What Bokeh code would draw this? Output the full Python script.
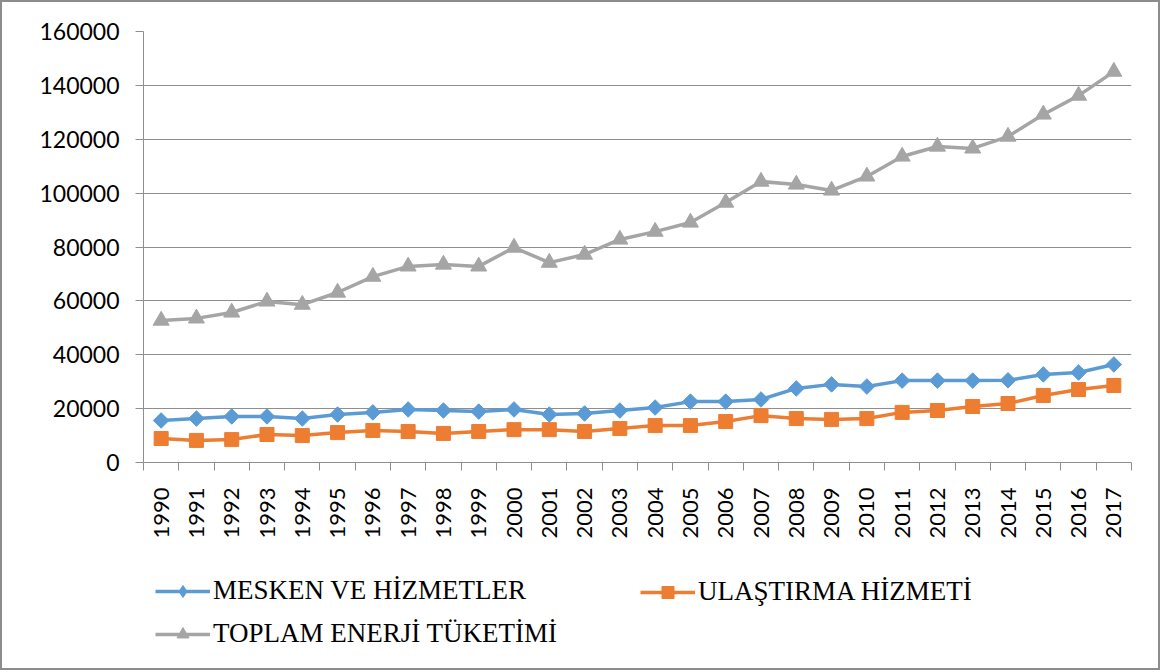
from bokeh.plotting import figure
from bokeh.layouts import column
from bokeh.models import Legend, LegendItem, FixedTicker, Range1d
from bokeh.embed import file_html
from bokeh.resources import INLINE

years = [str(y) for y in range(1990, 2018)]

mesken = [15600, 16300, 17100, 17100, 16300, 17800, 18600, 19700, 19300, 18900,
          19700, 17800, 18200, 19300, 20400, 22600, 22600, 23400, 27500, 29000,
          28200, 30400, 30400, 30400, 30500, 32700, 33400, 36400]
ulastirma = [8900, 8200, 8500, 10400, 10000, 11100, 11900, 11500, 10800, 11500,
             12200, 12200, 11500, 12600, 13700, 13700, 15200, 17400, 16300, 16000,
             16300, 18600, 19300, 20800, 21900, 24900, 27100, 28600]
toplam = [52700, 53500, 55700, 59800, 58600, 63100, 69000, 72800, 73500, 72800,
          79800, 74200, 77200, 82800, 85700, 89100, 96500, 104300, 103200, 101000,
          106200, 113600, 117300, 116600, 121000, 129200, 136200, 145100]

labels = ["MESKEN VE HİZMETLER", "ULAŞTIRMA HİZMETİ", "TOPLAM ENERJİ TÜKETİMİ"]
colors = ["#5B9BD5", "#ED7D31", "#A5A5A5"]
y_ticks = list(range(0, 160001, 20000))

n = len(years)
xs = [i + 0.5 for i in range(n)]

W, H1, H2 = 1156, 560, 106
p = figure(width=W, height=H1, output_backend="svg", toolbar_location=None,
           x_range=Range1d(0, n), y_range=Range1d(0, 160000),
           min_border_left=141, min_border_top=29, min_border_right=27,
           min_border_bottom=H1 - 460)
p.outline_line_color = None
p.background_fill_color = "white"
p.border_fill_color = "white"

gc = "#8E8E8E"
# y axis
p.yaxis.ticker = FixedTicker(ticks=y_ticks)
p.yaxis.axis_line_color = gc
p.yaxis.major_tick_line_color = gc
p.yaxis.major_tick_out = 8
p.yaxis.major_tick_in = 0
p.yaxis.minor_tick_line_color = None
p.yaxis.major_label_standoff = 16
p.yaxis.major_label_text_font = "Lato"
p.yaxis.major_label_text_font_size = "23px"
p.yaxis.major_label_text_color = "#000000"
p.yaxis.formatter.use_scientific = False

# x axis
p.xaxis.ticker = FixedTicker(ticks=xs, minor_ticks=list(range(n + 1)))
p.xaxis.major_label_overrides = {x: y for x, y in zip(xs, years)}
p.xaxis.axis_line_color = gc
p.xaxis.major_tick_line_color = None
p.xaxis.minor_tick_line_color = gc
p.xaxis.minor_tick_out = 8
p.xaxis.minor_tick_in = 0
p.xaxis.major_tick_out = 8
p.xaxis.major_label_orientation = 1.5707963267948966
p.xaxis.major_label_standoff = 17
p.xaxis.major_label_text_font = "Lato"
p.xaxis.major_label_text_font_size = "22px"
p.xaxis.major_label_text_color = "#000000"

p.xgrid.grid_line_color = None
p.ygrid.grid_line_color = gc
p.ygrid.grid_line_width = 1

lw = 3.5
p.line(xs, mesken, line_color=colors[0], line_width=lw)
p.scatter(xs, mesken, marker="square", angle=0.7853981634, size=11,
          fill_color=colors[0], line_color=colors[0])
p.line(xs, ulastirma, line_color=colors[1], line_width=lw)
p.scatter(xs, ulastirma, marker="square", size=14, fill_color=colors[1], line_color=colors[1])
p.line(xs, toplam, line_color=colors[2], line_width=lw)
p.scatter(xs, toplam, marker="triangle", size=16, fill_color=colors[2], line_color=colors[2])

# legend figure (legend-only panel below the chart)
p2 = figure(width=W, height=H2, output_backend="svg", toolbar_location=None,
            x_range=Range1d(0, n), y_range=Range1d(0, 160000),
            x_axis_type=None, y_axis_type=None,
            min_border_left=0, min_border_right=0, min_border_top=0, min_border_bottom=0)
p2.outline_line_color = None
p2.xgrid.grid_line_color = None
p2.ygrid.grid_line_color = None
k1 = p2.line(xs, mesken, line_color=colors[0], line_width=lw, visible=False)
m1 = p2.scatter(xs, mesken, marker="diamond", size=13,
                fill_color=colors[0], line_color=colors[0], visible=False)
k2 = p2.line(xs, ulastirma, line_color=colors[1], line_width=lw, visible=False)
m2 = p2.scatter(xs, ulastirma, marker="square", size=11, fill_color=colors[1],
                line_color=colors[1], visible=False)
k3 = p2.line(xs, toplam, line_color=colors[2], line_width=lw, visible=False)
m3 = p2.scatter(xs, toplam, marker="triangle", size=12, fill_color=colors[2],
                line_color=colors[2], visible=False)

common = dict(orientation="vertical", glyph_width=55, glyph_height=30, label_height=30,
              spacing=12, padding=0, margin=0, border_line_color=None,
              background_fill_alpha=0, label_text_font="Liberation Serif",
              label_text_font_size="27px", label_text_color="#000000", label_standoff=3)
leg1 = Legend(items=[LegendItem(label=labels[0], renderers=[k1, m1]),
                     LegendItem(label=labels[2], renderers=[k3, m3])],
              location=(12, 19), **common)
leg2 = Legend(items=[LegendItem(label=labels[1], renderers=[k2, m2])],
              location=(497, 61), **common)
p2.add_layout(leg1)
p2.add_layout(leg2)

layout = column(p, p2, spacing=0)
layout.styles = {"border": "2px solid #8C8C8C"}

open("out.html", "w").write(file_html(layout, INLINE))
